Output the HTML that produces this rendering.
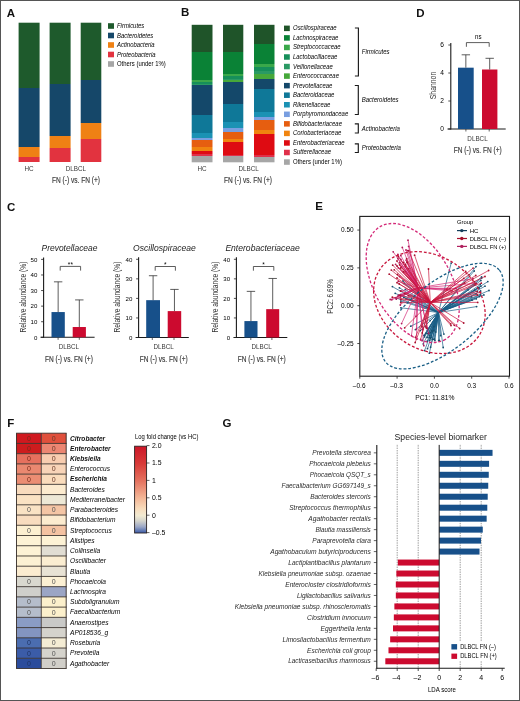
<!DOCTYPE html>
<html><head><meta charset="utf-8"><style>
html,body{margin:0;padding:0;background:#fff;}
svg{display:block;font-family:"Liberation Sans", sans-serif;will-change:transform;}
</style></head><body>
<svg width="520" height="701" viewBox="0 0 520 701">
<rect x="0" y="0" width="520" height="701" fill="#fff"/>
<text x="6.8" y="16.6" font-size="11.5" font-weight="bold" fill="#111">A</text>
<text x="181.0" y="16.4" font-size="11.5" font-weight="bold" fill="#111">B</text>
<text x="7.0" y="210.6" font-size="11.5" font-weight="bold" fill="#111">C</text>
<text x="416.3" y="16.8" font-size="11.5" font-weight="bold" fill="#111">D</text>
<text x="315.3" y="210.4" font-size="11.5" font-weight="bold" fill="#111">E</text>
<text x="7.3" y="427.3" font-size="11.5" font-weight="bold" fill="#111">F</text>
<text x="222.6" y="427.4" font-size="11.5" font-weight="bold" fill="#111">G</text>
<linearGradient id="g1" gradientUnits="userSpaceOnUse" x1="0" y1="22.7" x2="0" y2="162"><stop offset="0.0000" stop-color="#1e5a2c"/><stop offset="0.4652" stop-color="#1e5a2c"/><stop offset="0.4652" stop-color="#154769"/><stop offset="0.8909" stop-color="#154769"/><stop offset="0.8909" stop-color="#ef8114"/><stop offset="0.9641" stop-color="#ef8114"/><stop offset="0.9641" stop-color="#e2333f"/><stop offset="1.0000" stop-color="#e2333f"/></linearGradient>
<rect x="18.6" y="22.7" width="21.00" height="139.30" fill="url(#g1)"/>
<linearGradient id="g2" gradientUnits="userSpaceOnUse" x1="0" y1="22.7" x2="0" y2="162"><stop offset="0.0000" stop-color="#1e5a2c"/><stop offset="0.4386" stop-color="#1e5a2c"/><stop offset="0.4386" stop-color="#154769"/><stop offset="0.8134" stop-color="#154769"/><stop offset="0.8134" stop-color="#ef8114"/><stop offset="0.8981" stop-color="#ef8114"/><stop offset="0.8981" stop-color="#e2333f"/><stop offset="1.0000" stop-color="#e2333f"/></linearGradient>
<rect x="49.6" y="22.7" width="21.00" height="139.30" fill="url(#g2)"/>
<linearGradient id="g3" gradientUnits="userSpaceOnUse" x1="0" y1="22.7" x2="0" y2="162"><stop offset="0.0000" stop-color="#1e5a2c"/><stop offset="0.4142" stop-color="#1e5a2c"/><stop offset="0.4142" stop-color="#154769"/><stop offset="0.7186" stop-color="#154769"/><stop offset="0.7186" stop-color="#ef8114"/><stop offset="0.8335" stop-color="#ef8114"/><stop offset="0.8335" stop-color="#e2333f"/><stop offset="1.0000" stop-color="#e2333f"/></linearGradient>
<rect x="80.7" y="22.7" width="20.60" height="139.30" fill="url(#g3)"/>
<rect x="108.00" y="23.20" width="6.00" height="5.60" fill="#1e5a2c"/>
<text x="117" y="28.1" font-size="6.3" font-style="italic" textLength="27.3" lengthAdjust="spacingAndGlyphs">Firmicutes</text>
<rect x="108.00" y="32.70" width="6.00" height="5.60" fill="#154769"/>
<text x="117" y="37.6" font-size="6.3" font-style="italic" textLength="36.2" lengthAdjust="spacingAndGlyphs">Bacteroidetes</text>
<rect x="108.00" y="42.20" width="6.00" height="5.60" fill="#ef8114"/>
<text x="117" y="47.1" font-size="6.3" font-style="italic" textLength="37.51" lengthAdjust="spacingAndGlyphs">Actinobacteria</text>
<rect x="108.00" y="51.70" width="6.00" height="5.60" fill="#e2333f"/>
<text x="117" y="56.6" font-size="6.3" font-style="italic" textLength="38.5" lengthAdjust="spacingAndGlyphs">Proteobacteria</text>
<rect x="108.00" y="61.20" width="6.00" height="5.60" fill="#a6a6a6"/>
<text x="117" y="66.10000000000001" font-size="6.3" textLength="48.69" lengthAdjust="spacingAndGlyphs">Others (under 1%)</text>
<text x="29" y="171.2" font-size="6.3" text-anchor="middle" fill="#3a3a3a">HC</text>
<text x="75.8" y="171.2" font-size="6.3" text-anchor="middle" fill="#3a3a3a">DLBCL</text>
<text x="52" y="183.4" font-size="8.2" fill="#3a3a3a" textLength="48" lengthAdjust="spacingAndGlyphs" stroke="#3a3a3a" stroke-width="0.15">FN (-) vs. FN (+)</text>
<linearGradient id="g4" gradientUnits="userSpaceOnUse" x1="0" y1="24.8" x2="0" y2="162.3"><stop offset="0.0000" stop-color="#1f5429"/><stop offset="0.1956" stop-color="#1f5429"/><stop offset="0.1956" stop-color="#0a8236"/><stop offset="0.4015" stop-color="#0a8236"/><stop offset="0.4015" stop-color="#3aa84a"/><stop offset="0.4182" stop-color="#3aa84a"/><stop offset="0.4182" stop-color="#168f5a"/><stop offset="0.4276" stop-color="#168f5a"/><stop offset="0.4276" stop-color="#2a9a64"/><stop offset="0.4364" stop-color="#2a9a64"/><stop offset="0.4364" stop-color="#46a83a"/><stop offset="0.4393" stop-color="#46a83a"/><stop offset="0.4393" stop-color="#14486a"/><stop offset="0.6560" stop-color="#14486a"/><stop offset="0.6560" stop-color="#0f7898"/><stop offset="0.7905" stop-color="#0f7898"/><stop offset="0.7905" stop-color="#1b92b4"/><stop offset="0.8211" stop-color="#1b92b4"/><stop offset="0.8211" stop-color="#789ee0"/><stop offset="0.8378" stop-color="#789ee0"/><stop offset="0.8378" stop-color="#e65e10"/><stop offset="0.8909" stop-color="#e65e10"/><stop offset="0.8909" stop-color="#f0840f"/><stop offset="0.9164" stop-color="#f0840f"/><stop offset="0.9164" stop-color="#de0b12"/><stop offset="0.9396" stop-color="#de0b12"/><stop offset="0.9396" stop-color="#e0304a"/><stop offset="0.9542" stop-color="#e0304a"/><stop offset="0.9542" stop-color="#a6a6a6"/><stop offset="1.0000" stop-color="#a6a6a6"/></linearGradient>
<rect x="191.7" y="24.8" width="20.80" height="137.50" fill="url(#g4)"/>
<linearGradient id="g5" gradientUnits="userSpaceOnUse" x1="0" y1="24.8" x2="0" y2="162.3"><stop offset="0.0000" stop-color="#1f5429"/><stop offset="0.1956" stop-color="#1f5429"/><stop offset="0.1956" stop-color="#0a8236"/><stop offset="0.3564" stop-color="#0a8236"/><stop offset="0.3564" stop-color="#3aa84a"/><stop offset="0.3760" stop-color="#3aa84a"/><stop offset="0.3760" stop-color="#168f5a"/><stop offset="0.3920" stop-color="#168f5a"/><stop offset="0.3920" stop-color="#2a9a64"/><stop offset="0.4029" stop-color="#2a9a64"/><stop offset="0.4029" stop-color="#46a83a"/><stop offset="0.4175" stop-color="#46a83a"/><stop offset="0.4175" stop-color="#14486a"/><stop offset="0.5745" stop-color="#14486a"/><stop offset="0.5745" stop-color="#0f7898"/><stop offset="0.7084" stop-color="#0f7898"/><stop offset="0.7084" stop-color="#1b92b4"/><stop offset="0.7520" stop-color="#1b92b4"/><stop offset="0.7520" stop-color="#789ee0"/><stop offset="0.7775" stop-color="#789ee0"/><stop offset="0.7775" stop-color="#e65e10"/><stop offset="0.8320" stop-color="#e65e10"/><stop offset="0.8320" stop-color="#f0840f"/><stop offset="0.8538" stop-color="#f0840f"/><stop offset="0.8538" stop-color="#de0b12"/><stop offset="0.9433" stop-color="#de0b12"/><stop offset="0.9433" stop-color="#e0304a"/><stop offset="0.9556" stop-color="#e0304a"/><stop offset="0.9556" stop-color="#a6a6a6"/><stop offset="1.0000" stop-color="#a6a6a6"/></linearGradient>
<rect x="223" y="24.8" width="20.30" height="137.50" fill="url(#g5)"/>
<linearGradient id="g6" gradientUnits="userSpaceOnUse" x1="0" y1="24.8" x2="0" y2="162.3"><stop offset="0.0000" stop-color="#1f5429"/><stop offset="0.1389" stop-color="#1f5429"/><stop offset="0.1389" stop-color="#0a8236"/><stop offset="0.2858" stop-color="#0a8236"/><stop offset="0.2858" stop-color="#3aa84a"/><stop offset="0.3069" stop-color="#3aa84a"/><stop offset="0.3069" stop-color="#168f5a"/><stop offset="0.3396" stop-color="#168f5a"/><stop offset="0.3396" stop-color="#2a9a64"/><stop offset="0.3578" stop-color="#2a9a64"/><stop offset="0.3578" stop-color="#46a83a"/><stop offset="0.3956" stop-color="#46a83a"/><stop offset="0.3956" stop-color="#14486a"/><stop offset="0.4651" stop-color="#14486a"/><stop offset="0.4651" stop-color="#0f7898"/><stop offset="0.6349" stop-color="#0f7898"/><stop offset="0.6349" stop-color="#1b92b4"/><stop offset="0.6727" stop-color="#1b92b4"/><stop offset="0.6727" stop-color="#789ee0"/><stop offset="0.6895" stop-color="#789ee0"/><stop offset="0.6895" stop-color="#e65e10"/><stop offset="0.7680" stop-color="#e65e10"/><stop offset="0.7680" stop-color="#f0840f"/><stop offset="0.7927" stop-color="#f0840f"/><stop offset="0.7927" stop-color="#de0b12"/><stop offset="0.9440" stop-color="#de0b12"/><stop offset="0.9440" stop-color="#e0304a"/><stop offset="0.9615" stop-color="#e0304a"/><stop offset="0.9615" stop-color="#a6a6a6"/><stop offset="1.0000" stop-color="#a6a6a6"/></linearGradient>
<rect x="254" y="24.8" width="20.50" height="137.50" fill="url(#g6)"/>
<rect x="284.00" y="25.60" width="5.80" height="5.50" fill="#1f5429"/>
<text x="293" y="30.3" font-size="6.4" font-style="italic" textLength="43.65" lengthAdjust="spacingAndGlyphs">Oscillospiraceae</text>
<rect x="284.00" y="35.15" width="5.80" height="5.50" fill="#0a8236"/>
<text x="293" y="39.85000000000001" font-size="6.4" font-style="italic" textLength="45.32" lengthAdjust="spacingAndGlyphs">Lachnospiraceae</text>
<rect x="284.00" y="44.70" width="5.80" height="5.50" fill="#3aa84a"/>
<text x="293" y="49.400000000000006" font-size="6.4" font-style="italic" textLength="47.63" lengthAdjust="spacingAndGlyphs">Streptococcaceae</text>
<rect x="284.00" y="54.25" width="5.80" height="5.50" fill="#168f5a"/>
<text x="293" y="58.95" font-size="6.4" font-style="italic" textLength="44.32" lengthAdjust="spacingAndGlyphs">Lactobacillaceae</text>
<rect x="284.00" y="63.80" width="5.80" height="5.50" fill="#2a9a64"/>
<text x="293" y="68.5" font-size="6.4" font-style="italic" textLength="39.8" lengthAdjust="spacingAndGlyphs">Veillonellaceae</text>
<rect x="284.00" y="73.35" width="5.80" height="5.50" fill="#46a83a"/>
<text x="293" y="78.05" font-size="6.4" font-style="italic" textLength="45.97" lengthAdjust="spacingAndGlyphs">Enterococcaceae</text>
<rect x="284.00" y="82.90" width="5.80" height="5.50" fill="#14486a"/>
<text x="293" y="87.60000000000001" font-size="6.4" font-style="italic" textLength="39.36" lengthAdjust="spacingAndGlyphs">Prevotellaceae</text>
<rect x="284.00" y="92.45" width="5.80" height="5.50" fill="#0f7898"/>
<text x="293" y="97.15000000000002" font-size="6.4" font-style="italic" textLength="41.35" lengthAdjust="spacingAndGlyphs">Bacteroidaceae</text>
<rect x="284.00" y="102.00" width="5.80" height="5.50" fill="#1b92b4"/>
<text x="293" y="106.7" font-size="6.4" font-style="italic" textLength="37.37" lengthAdjust="spacingAndGlyphs">Rikenellaceae</text>
<rect x="284.00" y="111.55" width="5.80" height="5.50" fill="#789ee0"/>
<text x="293" y="116.25000000000001" font-size="6.4" font-style="italic" textLength="55.23" lengthAdjust="spacingAndGlyphs">Porphyromondaceae</text>
<rect x="284.00" y="121.10" width="5.80" height="5.50" fill="#e65e10"/>
<text x="293" y="125.8" font-size="6.4" font-style="italic" textLength="48.95" lengthAdjust="spacingAndGlyphs">Bifidobacteriaceae</text>
<rect x="284.00" y="130.65" width="5.80" height="5.50" fill="#f0840f"/>
<text x="293" y="135.35" font-size="6.4" font-style="italic" textLength="48.29" lengthAdjust="spacingAndGlyphs">Coriobacteriaceae</text>
<rect x="284.00" y="140.20" width="5.80" height="5.50" fill="#de0b12"/>
<text x="293" y="144.9" font-size="6.4" font-style="italic" textLength="51.6" lengthAdjust="spacingAndGlyphs">Enterobacteriaceae</text>
<rect x="284.00" y="149.75" width="5.80" height="5.50" fill="#e0304a"/>
<text x="293" y="154.45" font-size="6.4" font-style="italic" textLength="38.04" lengthAdjust="spacingAndGlyphs">Sutterellaceae</text>
<rect x="284.00" y="159.30" width="5.80" height="5.50" fill="#a6a6a6"/>
<text x="293" y="164.0" font-size="6.4" textLength="48.94" lengthAdjust="spacingAndGlyphs">Others (under 1%)</text>
<path d="M354.9,28 H358.4 V76 H354.9" fill="none" stroke="#1a1a1a" stroke-width="1.15"/>
<text x="361.79999999999995" y="54" font-size="6.4" font-style="italic" textLength="27.8" lengthAdjust="spacingAndGlyphs">Firmicutes</text>
<path d="M354.8,85.5 H358.3 V114.5 H354.8" fill="none" stroke="#1a1a1a" stroke-width="1.15"/>
<text x="361.7" y="102.2" font-size="6.4" font-style="italic" textLength="36.87" lengthAdjust="spacingAndGlyphs">Bacteroidetes</text>
<path d="M354.8,123.8 H358.3 V133 H354.8" fill="none" stroke="#1a1a1a" stroke-width="1.15"/>
<text x="361.7" y="131" font-size="6.4" font-style="italic" textLength="38.21" lengthAdjust="spacingAndGlyphs">Actinobacteria</text>
<path d="M354.8,143.8 H358.3 V152.5 H354.8" fill="none" stroke="#1a1a1a" stroke-width="1.15"/>
<text x="361.7" y="149.8" font-size="6.4" font-style="italic" textLength="39.22" lengthAdjust="spacingAndGlyphs">Proteobacteria</text>
<text x="202" y="171.2" font-size="6.3" text-anchor="middle" fill="#3a3a3a">HC</text>
<text x="248.7" y="171.2" font-size="6.3" text-anchor="middle" fill="#3a3a3a">DLBCL</text>
<text x="224" y="183.4" font-size="8.2" fill="#3a3a3a" textLength="48" lengthAdjust="spacingAndGlyphs" stroke="#3a3a3a" stroke-width="0.15">FN (-) vs. FN (+)</text>
<line x1="450.80" y1="43.00" x2="450.80" y2="129.50" stroke="#1a1a1a" stroke-width="1.1"/>
<line x1="447.50" y1="129.00" x2="505.70" y2="129.00" stroke="#1a1a1a" stroke-width="1.1"/>
<line x1="448.30" y1="129.00" x2="450.80" y2="129.00" stroke="#222" stroke-width="0.8"/>
<text x="443.90000000000003" y="131.2" font-size="6.6" text-anchor="end">0</text>
<line x1="448.30" y1="101.00" x2="450.80" y2="101.00" stroke="#222" stroke-width="0.8"/>
<text x="443.90000000000003" y="103.2" font-size="6.6" text-anchor="end">2</text>
<line x1="448.30" y1="73.00" x2="450.80" y2="73.00" stroke="#222" stroke-width="0.8"/>
<text x="443.90000000000003" y="75.2" font-size="6.6" text-anchor="end">4</text>
<line x1="448.30" y1="45.00" x2="450.80" y2="45.00" stroke="#222" stroke-width="0.8"/>
<text x="443.90000000000003" y="47.2" font-size="6.6" text-anchor="end">6</text>
<line x1="465.90" y1="129.00" x2="465.90" y2="131.50" stroke="#222" stroke-width="0.7"/>
<line x1="489.20" y1="129.00" x2="489.20" y2="131.50" stroke="#222" stroke-width="0.7"/>
<rect x="458.00" y="67.68" width="15.70" height="61.32" fill="#17508a"/>
<line x1="465.85" y1="67.68" x2="465.85" y2="54.80" stroke="#333" stroke-width="0.8"/>
<line x1="461.65" y1="54.80" x2="470.05" y2="54.80" stroke="#333" stroke-width="0.8"/>
<rect x="482.00" y="69.50" width="15.40" height="59.50" fill="#cc0a2f"/>
<line x1="489.70" y1="69.50" x2="489.70" y2="58.30" stroke="#333" stroke-width="0.8"/>
<line x1="485.50" y1="58.30" x2="493.90" y2="58.30" stroke="#333" stroke-width="0.8"/>
<path d="M466.4,46.8 V42.6 H489.2 V46.8" fill="none" stroke="#333" stroke-width="0.8"/>
<text x="478.29999999999995" y="39.2" font-size="6.8" text-anchor="middle" textLength="6.5" lengthAdjust="spacingAndGlyphs">ns</text>
<text x="477.5" y="140.8" font-size="6.3" text-anchor="middle" fill="#3a3a3a">DLBCL</text>
<text x="453.7" y="152.6" font-size="8.2" fill="#3a3a3a" textLength="48" lengthAdjust="spacingAndGlyphs" stroke="#3a3a3a" stroke-width="0.15">FN (-) vs. FN (+)</text>
<text x="0" y="0" font-size="8.6" fill="#333" text-anchor="middle" transform="translate(436.0,85.5) rotate(-90)" textLength="27.5" lengthAdjust="spacingAndGlyphs">Shannon</text>
<text x="41.5" y="250.7" font-size="8.3" font-style="italic" fill="#222" textLength="56" lengthAdjust="spacingAndGlyphs">Prevotellaceae</text>
<text x="133.1" y="250.9" font-size="8.3" font-style="italic" fill="#222" textLength="62.7" lengthAdjust="spacingAndGlyphs">Oscillospiraceae</text>
<text x="225.4" y="250.7" font-size="8.3" font-style="italic" fill="#222" textLength="74.3" lengthAdjust="spacingAndGlyphs">Enterobacteriaceae</text>
<line x1="43.60" y1="257.40" x2="43.60" y2="337.80" stroke="#1a1a1a" stroke-width="1.1"/>
<line x1="40.50" y1="337.30" x2="94.60" y2="337.30" stroke="#1a1a1a" stroke-width="1.1"/>
<line x1="41.10" y1="337.30" x2="43.60" y2="337.30" stroke="#222" stroke-width="0.8"/>
<text x="37.300000000000004" y="339.5" font-size="6.1" text-anchor="end">0</text>
<line x1="41.10" y1="321.72" x2="43.60" y2="321.72" stroke="#222" stroke-width="0.8"/>
<text x="37.300000000000004" y="323.92" font-size="6.1" text-anchor="end">10</text>
<line x1="41.10" y1="306.14" x2="43.60" y2="306.14" stroke="#222" stroke-width="0.8"/>
<text x="37.300000000000004" y="308.34" font-size="6.1" text-anchor="end">20</text>
<line x1="41.10" y1="290.56" x2="43.60" y2="290.56" stroke="#222" stroke-width="0.8"/>
<text x="37.300000000000004" y="292.76" font-size="6.1" text-anchor="end">30</text>
<line x1="41.10" y1="274.98" x2="43.60" y2="274.98" stroke="#222" stroke-width="0.8"/>
<text x="37.300000000000004" y="277.18" font-size="6.1" text-anchor="end">40</text>
<line x1="41.10" y1="259.40" x2="43.60" y2="259.40" stroke="#222" stroke-width="0.8"/>
<text x="37.300000000000004" y="261.59999999999997" font-size="6.1" text-anchor="end">50</text>
<line x1="58.10" y1="337.30" x2="58.10" y2="339.80" stroke="#222" stroke-width="0.7"/>
<line x1="79.30" y1="337.30" x2="79.30" y2="339.80" stroke="#222" stroke-width="0.7"/>
<rect x="51.50" y="312.06" width="13.30" height="25.24" fill="#17508a"/>
<line x1="58.15" y1="312.06" x2="58.15" y2="281.84" stroke="#333" stroke-width="0.8"/>
<line x1="53.95" y1="281.84" x2="62.35" y2="281.84" stroke="#333" stroke-width="0.8"/>
<rect x="72.70" y="327.02" width="13.20" height="10.28" fill="#cc0a2f"/>
<line x1="79.30" y1="327.02" x2="79.30" y2="299.91" stroke="#333" stroke-width="0.8"/>
<line x1="75.10" y1="299.91" x2="83.50" y2="299.91" stroke="#333" stroke-width="0.8"/>
<path d="M60.2,270.6 V266.4 H80.6 V270.6" fill="none" stroke="#333" stroke-width="0.8"/>
<text x="70.4" y="267.29999999999995" font-size="6.5" text-anchor="middle">**</text>
<text x="68.9" y="349" font-size="6.3" text-anchor="middle" fill="#3a3a3a">DLBCL</text>
<text x="44.900000000000006" y="361.8" font-size="8.2" fill="#3a3a3a" textLength="48" lengthAdjust="spacingAndGlyphs" stroke="#3a3a3a" stroke-width="0.15">FN (-) vs. FN (+)</text>
<line x1="138.60" y1="257.30" x2="138.60" y2="338.00" stroke="#1a1a1a" stroke-width="1.1"/>
<line x1="135.60" y1="337.50" x2="188.80" y2="337.50" stroke="#1a1a1a" stroke-width="1.1"/>
<line x1="136.10" y1="337.50" x2="138.60" y2="337.50" stroke="#222" stroke-width="0.8"/>
<text x="132.29999999999998" y="339.7" font-size="6.1" text-anchor="end">0</text>
<line x1="136.10" y1="317.95" x2="138.60" y2="317.95" stroke="#222" stroke-width="0.8"/>
<text x="132.29999999999998" y="320.15" font-size="6.1" text-anchor="end">10</text>
<line x1="136.10" y1="298.40" x2="138.60" y2="298.40" stroke="#222" stroke-width="0.8"/>
<text x="132.29999999999998" y="300.59999999999997" font-size="6.1" text-anchor="end">20</text>
<line x1="136.10" y1="278.85" x2="138.60" y2="278.85" stroke="#222" stroke-width="0.8"/>
<text x="132.29999999999998" y="281.05" font-size="6.1" text-anchor="end">30</text>
<line x1="136.10" y1="259.30" x2="138.60" y2="259.30" stroke="#222" stroke-width="0.8"/>
<text x="132.29999999999998" y="261.5" font-size="6.1" text-anchor="end">40</text>
<line x1="152.30" y1="337.50" x2="152.30" y2="340.00" stroke="#222" stroke-width="0.7"/>
<line x1="174.00" y1="337.50" x2="174.00" y2="340.00" stroke="#222" stroke-width="0.7"/>
<rect x="146.20" y="300.16" width="13.80" height="37.34" fill="#17508a"/>
<line x1="153.10" y1="300.16" x2="153.10" y2="275.72" stroke="#333" stroke-width="0.8"/>
<line x1="148.90" y1="275.72" x2="157.30" y2="275.72" stroke="#333" stroke-width="0.8"/>
<rect x="167.70" y="311.11" width="13.50" height="26.39" fill="#cc0a2f"/>
<line x1="174.45" y1="311.11" x2="174.45" y2="289.41" stroke="#333" stroke-width="0.8"/>
<line x1="170.25" y1="289.41" x2="178.65" y2="289.41" stroke="#333" stroke-width="0.8"/>
<path d="M155.2,270.7 V266.5 H175.4 V270.7" fill="none" stroke="#333" stroke-width="0.8"/>
<text x="165.3" y="267.4" font-size="6.5" text-anchor="middle">*</text>
<text x="163.7" y="349" font-size="6.3" text-anchor="middle" fill="#3a3a3a">DLBCL</text>
<text x="139.7" y="361.8" font-size="8.2" fill="#3a3a3a" textLength="48" lengthAdjust="spacingAndGlyphs" stroke="#3a3a3a" stroke-width="0.15">FN (-) vs. FN (+)</text>
<line x1="236.40" y1="257.30" x2="236.40" y2="338.00" stroke="#1a1a1a" stroke-width="1.1"/>
<line x1="233.50" y1="337.50" x2="287.30" y2="337.50" stroke="#1a1a1a" stroke-width="1.1"/>
<line x1="233.90" y1="337.50" x2="236.40" y2="337.50" stroke="#222" stroke-width="0.8"/>
<text x="230.1" y="339.7" font-size="6.1" text-anchor="end">0</text>
<line x1="233.90" y1="317.95" x2="236.40" y2="317.95" stroke="#222" stroke-width="0.8"/>
<text x="230.1" y="320.15" font-size="6.1" text-anchor="end">10</text>
<line x1="233.90" y1="298.40" x2="236.40" y2="298.40" stroke="#222" stroke-width="0.8"/>
<text x="230.1" y="300.59999999999997" font-size="6.1" text-anchor="end">20</text>
<line x1="233.90" y1="278.85" x2="236.40" y2="278.85" stroke="#222" stroke-width="0.8"/>
<text x="230.1" y="281.05" font-size="6.1" text-anchor="end">30</text>
<line x1="233.90" y1="259.30" x2="236.40" y2="259.30" stroke="#222" stroke-width="0.8"/>
<text x="230.1" y="261.5" font-size="6.1" text-anchor="end">40</text>
<line x1="250.80" y1="337.50" x2="250.80" y2="340.00" stroke="#222" stroke-width="0.7"/>
<line x1="271.90" y1="337.50" x2="271.90" y2="340.00" stroke="#222" stroke-width="0.7"/>
<rect x="244.40" y="321.08" width="13.10" height="16.42" fill="#17508a"/>
<line x1="250.95" y1="321.08" x2="250.95" y2="291.36" stroke="#333" stroke-width="0.8"/>
<line x1="246.75" y1="291.36" x2="255.15" y2="291.36" stroke="#333" stroke-width="0.8"/>
<rect x="266.20" y="309.15" width="13.00" height="28.35" fill="#cc0a2f"/>
<line x1="272.70" y1="309.15" x2="272.70" y2="278.46" stroke="#333" stroke-width="0.8"/>
<line x1="268.50" y1="278.46" x2="276.90" y2="278.46" stroke="#333" stroke-width="0.8"/>
<path d="M253.4,270.7 V266.5 H273.8 V270.7" fill="none" stroke="#333" stroke-width="0.8"/>
<text x="263.6" y="267.4" font-size="6.5" text-anchor="middle">*</text>
<text x="261.7" y="349" font-size="6.3" text-anchor="middle" fill="#3a3a3a">DLBCL</text>
<text x="237.7" y="361.8" font-size="8.2" fill="#3a3a3a" textLength="48" lengthAdjust="spacingAndGlyphs" stroke="#3a3a3a" stroke-width="0.15">FN (-) vs. FN (+)</text>
<text x="0" y="0" font-size="8.6" fill="#333" text-anchor="middle" transform="translate(25.6,297.1) rotate(-90)" textLength="71" lengthAdjust="spacingAndGlyphs">Relative abundance (%)</text>
<text x="0" y="0" font-size="8.6" fill="#333" text-anchor="middle" transform="translate(120.2,297.1) rotate(-90)" textLength="71" lengthAdjust="spacingAndGlyphs">Relative abundance (%)</text>
<text x="0" y="0" font-size="8.6" fill="#333" text-anchor="middle" transform="translate(218.2,297.1) rotate(-90)" textLength="71" lengthAdjust="spacingAndGlyphs">Relative abundance (%)</text>
<g clip-path="url(#clipE)">
<line x1="438.50" y1="312.50" x2="420.43" y2="330.58" stroke="#1a5f86" stroke-width="0.7"/>
<line x1="438.50" y1="312.50" x2="424.36" y2="335.57" stroke="#1a5f86" stroke-width="0.7"/>
<line x1="438.50" y1="312.50" x2="423.97" y2="335.31" stroke="#1a5f86" stroke-width="0.7"/>
<line x1="438.50" y1="312.50" x2="434.53" y2="339.08" stroke="#1a5f86" stroke-width="0.7"/>
<line x1="438.50" y1="312.50" x2="433.81" y2="326.70" stroke="#1a5f86" stroke-width="0.7"/>
<line x1="438.50" y1="312.50" x2="443.85" y2="334.12" stroke="#1a5f86" stroke-width="0.7"/>
<line x1="438.50" y1="312.50" x2="428.81" y2="333.47" stroke="#1a5f86" stroke-width="0.7"/>
<line x1="438.50" y1="312.50" x2="429.28" y2="335.60" stroke="#1a5f86" stroke-width="0.7"/>
<line x1="438.50" y1="312.50" x2="431.06" y2="337.60" stroke="#1a5f86" stroke-width="0.7"/>
<line x1="438.50" y1="312.50" x2="422.05" y2="340.56" stroke="#1a5f86" stroke-width="0.7"/>
<line x1="438.50" y1="312.50" x2="427.26" y2="330.10" stroke="#1a5f86" stroke-width="0.7"/>
<line x1="438.50" y1="312.50" x2="427.11" y2="337.39" stroke="#1a5f86" stroke-width="0.7"/>
<line x1="438.50" y1="312.50" x2="440.57" y2="335.66" stroke="#1a5f86" stroke-width="0.7"/>
<line x1="438.50" y1="312.50" x2="429.56" y2="340.31" stroke="#1a5f86" stroke-width="0.7"/>
<line x1="438.50" y1="312.50" x2="438.71" y2="340.73" stroke="#1a5f86" stroke-width="0.7"/>
<line x1="438.50" y1="312.50" x2="433.82" y2="330.72" stroke="#1a5f86" stroke-width="0.7"/>
<line x1="438.50" y1="312.50" x2="431.09" y2="335.82" stroke="#1a5f86" stroke-width="0.7"/>
<line x1="438.50" y1="312.50" x2="435.76" y2="332.09" stroke="#1a5f86" stroke-width="0.7"/>
<line x1="438.50" y1="312.50" x2="429.44" y2="337.52" stroke="#1a5f86" stroke-width="0.7"/>
<line x1="438.50" y1="312.50" x2="431.71" y2="330.93" stroke="#1a5f86" stroke-width="0.7"/>
<line x1="438.50" y1="312.50" x2="424.60" y2="350.56" stroke="#1a5f86" stroke-width="0.7"/>
<line x1="438.50" y1="312.50" x2="433.77" y2="339.30" stroke="#1a5f86" stroke-width="0.7"/>
<line x1="438.50" y1="312.50" x2="439.30" y2="340.27" stroke="#1a5f86" stroke-width="0.7"/>
<line x1="438.50" y1="312.50" x2="425.93" y2="333.42" stroke="#1a5f86" stroke-width="0.7"/>
<line x1="438.50" y1="312.50" x2="430.70" y2="332.58" stroke="#1a5f86" stroke-width="0.7"/>
<line x1="438.50" y1="312.50" x2="434.89" y2="340.54" stroke="#1a5f86" stroke-width="0.7"/>
<line x1="438.50" y1="312.50" x2="429.35" y2="353.16" stroke="#1a5f86" stroke-width="0.7"/>
<line x1="438.50" y1="312.50" x2="427.53" y2="348.74" stroke="#1a5f86" stroke-width="0.7"/>
<line x1="438.50" y1="312.50" x2="423.27" y2="343.87" stroke="#1a5f86" stroke-width="0.7"/>
<line x1="438.50" y1="312.50" x2="443.17" y2="347.54" stroke="#1a5f86" stroke-width="0.7"/>
<line x1="438.50" y1="312.50" x2="430.55" y2="347.17" stroke="#1a5f86" stroke-width="0.7"/>
<line x1="438.50" y1="312.50" x2="430.44" y2="338.43" stroke="#1a5f86" stroke-width="0.7"/>
<line x1="438.50" y1="312.50" x2="427.76" y2="333.59" stroke="#1a5f86" stroke-width="0.7"/>
<line x1="438.50" y1="312.50" x2="427.20" y2="341.15" stroke="#1a5f86" stroke-width="0.7"/>
<line x1="438.50" y1="312.50" x2="424.50" y2="336.87" stroke="#1a5f86" stroke-width="0.7"/>
<line x1="438.50" y1="312.50" x2="432.19" y2="339.43" stroke="#1a5f86" stroke-width="0.7"/>
<line x1="438.50" y1="312.50" x2="432.57" y2="331.52" stroke="#1a5f86" stroke-width="0.7"/>
<line x1="438.50" y1="312.50" x2="430.21" y2="320.60" stroke="#1a5f86" stroke-width="0.7"/>
<line x1="438.50" y1="312.50" x2="487.82" y2="281.63" stroke="#1a5f86" stroke-width="0.7"/>
<line x1="438.50" y1="312.50" x2="474.73" y2="290.22" stroke="#1a5f86" stroke-width="0.7"/>
<line x1="438.50" y1="312.50" x2="480.95" y2="286.29" stroke="#1a5f86" stroke-width="0.7"/>
<line x1="438.50" y1="312.50" x2="476.55" y2="306.61" stroke="#1a5f86" stroke-width="0.7"/>
<line x1="438.50" y1="312.50" x2="476.08" y2="293.98" stroke="#1a5f86" stroke-width="0.7"/>
<line x1="438.50" y1="312.50" x2="480.60" y2="291.02" stroke="#1a5f86" stroke-width="0.7"/>
<line x1="438.50" y1="312.50" x2="481.55" y2="276.96" stroke="#1a5f86" stroke-width="0.7"/>
<line x1="438.50" y1="312.50" x2="480.23" y2="284.65" stroke="#1a5f86" stroke-width="0.7"/>
<line x1="438.50" y1="312.50" x2="476.28" y2="298.78" stroke="#1a5f86" stroke-width="0.7"/>
<line x1="438.50" y1="312.50" x2="479.36" y2="296.58" stroke="#1a5f86" stroke-width="0.7"/>
<line x1="438.50" y1="312.50" x2="480.53" y2="294.98" stroke="#1a5f86" stroke-width="0.7"/>
<line x1="438.50" y1="312.50" x2="484.98" y2="286.21" stroke="#1a5f86" stroke-width="0.7"/>
<line x1="438.50" y1="312.50" x2="474.39" y2="285.22" stroke="#1a5f86" stroke-width="0.7"/>
<line x1="438.50" y1="312.50" x2="489.00" y2="290.46" stroke="#1a5f86" stroke-width="0.7"/>
<line x1="438.50" y1="312.50" x2="478.11" y2="287.52" stroke="#1a5f86" stroke-width="0.7"/>
<line x1="438.50" y1="312.50" x2="468.15" y2="289.80" stroke="#1a5f86" stroke-width="0.7"/>
<line x1="438.50" y1="312.50" x2="479.18" y2="287.98" stroke="#1a5f86" stroke-width="0.7"/>
<line x1="438.50" y1="312.50" x2="476.04" y2="266.60" stroke="#1a5f86" stroke-width="0.7"/>
<line x1="438.50" y1="312.50" x2="474.20" y2="270.99" stroke="#1a5f86" stroke-width="0.7"/>
<line x1="438.50" y1="312.50" x2="472.01" y2="300.20" stroke="#1a5f86" stroke-width="0.7"/>
<line x1="438.50" y1="312.50" x2="480.94" y2="280.47" stroke="#1a5f86" stroke-width="0.7"/>
<line x1="438.50" y1="312.50" x2="481.69" y2="278.13" stroke="#1a5f86" stroke-width="0.7"/>
<line x1="438.50" y1="312.50" x2="471.63" y2="296.91" stroke="#1a5f86" stroke-width="0.7"/>
<line x1="438.50" y1="312.50" x2="483.88" y2="294.90" stroke="#1a5f86" stroke-width="0.7"/>
<line x1="438.50" y1="312.50" x2="405.29" y2="289.25" stroke="#1a5f86" stroke-width="0.7"/>
<line x1="438.50" y1="312.50" x2="399.44" y2="287.81" stroke="#1a5f86" stroke-width="0.7"/>
<line x1="438.50" y1="312.50" x2="400.99" y2="294.51" stroke="#1a5f86" stroke-width="0.7"/>
<line x1="438.50" y1="312.50" x2="406.00" y2="298.77" stroke="#1a5f86" stroke-width="0.7"/>
<line x1="438.50" y1="312.50" x2="400.86" y2="307.75" stroke="#1a5f86" stroke-width="0.7"/>
<line x1="438.50" y1="312.50" x2="392.38" y2="286.62" stroke="#1a5f86" stroke-width="0.7"/>
<line x1="438.50" y1="312.50" x2="403.80" y2="297.42" stroke="#1a5f86" stroke-width="0.7"/>
<line x1="438.50" y1="312.50" x2="400.81" y2="301.08" stroke="#1a5f86" stroke-width="0.7"/>
<line x1="438.50" y1="312.50" x2="451.20" y2="263.10" stroke="#1a5f86" stroke-width="0.7"/>
<line x1="438.50" y1="312.50" x2="403.00" y2="281.00" stroke="#1a5f86" stroke-width="0.7"/>
<line x1="438.50" y1="312.50" x2="404.20" y2="283.50" stroke="#1a5f86" stroke-width="0.7"/>
<line x1="438.50" y1="312.50" x2="395.20" y2="293.30" stroke="#1a5f86" stroke-width="0.7"/>
<line x1="438.50" y1="312.50" x2="395.80" y2="297.90" stroke="#1a5f86" stroke-width="0.7"/>
<line x1="438.50" y1="312.50" x2="410.80" y2="326.20" stroke="#1a5f86" stroke-width="0.7"/>
<line x1="438.50" y1="312.50" x2="415.40" y2="329.60" stroke="#1a5f86" stroke-width="0.7"/>
<circle cx="420.4" cy="330.6" r="0.9" fill="#17506e"/>
<circle cx="424.4" cy="335.6" r="0.9" fill="#17506e"/>
<circle cx="424.0" cy="335.3" r="0.9" fill="#17506e"/>
<circle cx="434.5" cy="339.1" r="0.9" fill="#17506e"/>
<circle cx="433.8" cy="326.7" r="0.9" fill="#17506e"/>
<circle cx="443.9" cy="334.1" r="0.9" fill="#17506e"/>
<circle cx="428.8" cy="333.5" r="0.9" fill="#17506e"/>
<circle cx="429.3" cy="335.6" r="0.9" fill="#17506e"/>
<circle cx="431.1" cy="337.6" r="0.9" fill="#17506e"/>
<circle cx="422.1" cy="340.6" r="0.9" fill="#17506e"/>
<circle cx="427.3" cy="330.1" r="0.9" fill="#17506e"/>
<circle cx="427.1" cy="337.4" r="0.9" fill="#17506e"/>
<circle cx="440.6" cy="335.7" r="0.9" fill="#17506e"/>
<circle cx="429.6" cy="340.3" r="0.9" fill="#17506e"/>
<circle cx="438.7" cy="340.7" r="0.9" fill="#17506e"/>
<circle cx="433.8" cy="330.7" r="0.9" fill="#17506e"/>
<circle cx="431.1" cy="335.8" r="0.9" fill="#17506e"/>
<circle cx="435.8" cy="332.1" r="0.9" fill="#17506e"/>
<circle cx="429.4" cy="337.5" r="0.9" fill="#17506e"/>
<circle cx="431.7" cy="330.9" r="0.9" fill="#17506e"/>
<circle cx="424.6" cy="350.6" r="0.9" fill="#17506e"/>
<circle cx="433.8" cy="339.3" r="0.9" fill="#17506e"/>
<circle cx="439.3" cy="340.3" r="0.9" fill="#17506e"/>
<circle cx="425.9" cy="333.4" r="0.9" fill="#17506e"/>
<circle cx="430.7" cy="332.6" r="0.9" fill="#17506e"/>
<circle cx="434.9" cy="340.5" r="0.9" fill="#17506e"/>
<circle cx="429.4" cy="353.2" r="0.9" fill="#17506e"/>
<circle cx="427.5" cy="348.7" r="0.9" fill="#17506e"/>
<circle cx="423.3" cy="343.9" r="0.9" fill="#17506e"/>
<circle cx="443.2" cy="347.5" r="0.9" fill="#17506e"/>
<circle cx="430.6" cy="347.2" r="0.9" fill="#17506e"/>
<circle cx="430.4" cy="338.4" r="0.9" fill="#17506e"/>
<circle cx="427.8" cy="333.6" r="0.9" fill="#17506e"/>
<circle cx="427.2" cy="341.2" r="0.9" fill="#17506e"/>
<circle cx="424.5" cy="336.9" r="0.9" fill="#17506e"/>
<circle cx="432.2" cy="339.4" r="0.9" fill="#17506e"/>
<circle cx="432.6" cy="331.5" r="0.9" fill="#17506e"/>
<circle cx="430.2" cy="320.6" r="0.9" fill="#17506e"/>
<circle cx="487.8" cy="281.6" r="0.9" fill="#17506e"/>
<circle cx="474.7" cy="290.2" r="0.9" fill="#17506e"/>
<circle cx="480.9" cy="286.3" r="0.9" fill="#17506e"/>
<circle cx="476.6" cy="306.6" r="0.9" fill="#17506e"/>
<circle cx="476.1" cy="294.0" r="0.9" fill="#17506e"/>
<circle cx="480.6" cy="291.0" r="0.9" fill="#17506e"/>
<circle cx="481.6" cy="277.0" r="0.9" fill="#17506e"/>
<circle cx="480.2" cy="284.6" r="0.9" fill="#17506e"/>
<circle cx="476.3" cy="298.8" r="0.9" fill="#17506e"/>
<circle cx="479.4" cy="296.6" r="0.9" fill="#17506e"/>
<circle cx="480.5" cy="295.0" r="0.9" fill="#17506e"/>
<circle cx="485.0" cy="286.2" r="0.9" fill="#17506e"/>
<circle cx="474.4" cy="285.2" r="0.9" fill="#17506e"/>
<circle cx="489.0" cy="290.5" r="0.9" fill="#17506e"/>
<circle cx="478.1" cy="287.5" r="0.9" fill="#17506e"/>
<circle cx="468.1" cy="289.8" r="0.9" fill="#17506e"/>
<circle cx="479.2" cy="288.0" r="0.9" fill="#17506e"/>
<circle cx="476.0" cy="266.6" r="0.9" fill="#17506e"/>
<circle cx="474.2" cy="271.0" r="0.9" fill="#17506e"/>
<circle cx="472.0" cy="300.2" r="0.9" fill="#17506e"/>
<circle cx="480.9" cy="280.5" r="0.9" fill="#17506e"/>
<circle cx="481.7" cy="278.1" r="0.9" fill="#17506e"/>
<circle cx="471.6" cy="296.9" r="0.9" fill="#17506e"/>
<circle cx="483.9" cy="294.9" r="0.9" fill="#17506e"/>
<circle cx="405.3" cy="289.3" r="0.9" fill="#17506e"/>
<circle cx="399.4" cy="287.8" r="0.9" fill="#17506e"/>
<circle cx="401.0" cy="294.5" r="0.9" fill="#17506e"/>
<circle cx="406.0" cy="298.8" r="0.9" fill="#17506e"/>
<circle cx="400.9" cy="307.8" r="0.9" fill="#17506e"/>
<circle cx="392.4" cy="286.6" r="0.9" fill="#17506e"/>
<circle cx="403.8" cy="297.4" r="0.9" fill="#17506e"/>
<circle cx="400.8" cy="301.1" r="0.9" fill="#17506e"/>
<circle cx="451.2" cy="263.1" r="0.9" fill="#17506e"/>
<circle cx="403.0" cy="281.0" r="0.9" fill="#17506e"/>
<circle cx="404.2" cy="283.5" r="0.9" fill="#17506e"/>
<circle cx="395.2" cy="293.3" r="0.9" fill="#17506e"/>
<circle cx="395.8" cy="297.9" r="0.9" fill="#17506e"/>
<circle cx="410.8" cy="326.2" r="0.9" fill="#17506e"/>
<circle cx="415.4" cy="329.6" r="0.9" fill="#17506e"/>
<line x1="418.00" y1="288.00" x2="399.66" y2="262.70" stroke="#d42a78" stroke-width="0.7"/>
<line x1="418.00" y1="288.00" x2="408.60" y2="246.26" stroke="#d42a78" stroke-width="0.7"/>
<line x1="418.00" y1="288.00" x2="401.26" y2="266.76" stroke="#d42a78" stroke-width="0.7"/>
<line x1="418.00" y1="288.00" x2="406.05" y2="260.09" stroke="#d42a78" stroke-width="0.7"/>
<line x1="418.00" y1="288.00" x2="407.23" y2="262.75" stroke="#d42a78" stroke-width="0.7"/>
<line x1="418.00" y1="288.00" x2="400.79" y2="255.49" stroke="#d42a78" stroke-width="0.7"/>
<line x1="418.00" y1="288.00" x2="400.77" y2="259.43" stroke="#d42a78" stroke-width="0.7"/>
<line x1="418.00" y1="288.00" x2="408.57" y2="268.67" stroke="#d42a78" stroke-width="0.7"/>
<line x1="418.00" y1="288.00" x2="405.58" y2="271.31" stroke="#d42a78" stroke-width="0.7"/>
<line x1="418.00" y1="288.00" x2="398.23" y2="267.82" stroke="#d42a78" stroke-width="0.7"/>
<line x1="418.00" y1="288.00" x2="405.36" y2="266.56" stroke="#d42a78" stroke-width="0.7"/>
<line x1="418.00" y1="288.00" x2="397.85" y2="254.49" stroke="#d42a78" stroke-width="0.7"/>
<line x1="418.00" y1="288.00" x2="393.21" y2="251.82" stroke="#d42a78" stroke-width="0.7"/>
<line x1="418.00" y1="288.00" x2="402.31" y2="247.43" stroke="#d42a78" stroke-width="0.7"/>
<line x1="418.00" y1="288.00" x2="396.25" y2="299.17" stroke="#d42a78" stroke-width="0.7"/>
<line x1="418.00" y1="288.00" x2="401.56" y2="323.58" stroke="#d42a78" stroke-width="0.7"/>
<line x1="418.00" y1="288.00" x2="400.46" y2="296.96" stroke="#d42a78" stroke-width="0.7"/>
<line x1="418.00" y1="288.00" x2="397.87" y2="296.06" stroke="#d42a78" stroke-width="0.7"/>
<line x1="418.00" y1="288.00" x2="390.22" y2="299.52" stroke="#d42a78" stroke-width="0.7"/>
<line x1="418.00" y1="288.00" x2="391.77" y2="299.85" stroke="#d42a78" stroke-width="0.7"/>
<line x1="418.00" y1="288.00" x2="400.30" y2="304.99" stroke="#d42a78" stroke-width="0.7"/>
<line x1="418.00" y1="288.00" x2="400.43" y2="291.12" stroke="#d42a78" stroke-width="0.7"/>
<line x1="418.00" y1="288.00" x2="398.30" y2="281.37" stroke="#d42a78" stroke-width="0.7"/>
<line x1="418.00" y1="288.00" x2="398.72" y2="295.19" stroke="#d42a78" stroke-width="0.7"/>
<line x1="418.00" y1="288.00" x2="455.40" y2="288.40" stroke="#d42a78" stroke-width="0.7"/>
<line x1="418.00" y1="288.00" x2="452.00" y2="290.90" stroke="#d42a78" stroke-width="0.7"/>
<line x1="418.00" y1="288.00" x2="476.50" y2="283.30" stroke="#d42a78" stroke-width="0.7"/>
<line x1="418.00" y1="288.00" x2="473.00" y2="278.70" stroke="#d42a78" stroke-width="0.7"/>
<line x1="418.00" y1="288.00" x2="428.62" y2="333.36" stroke="#d42a78" stroke-width="0.7"/>
<line x1="418.00" y1="288.00" x2="416.42" y2="329.11" stroke="#d42a78" stroke-width="0.7"/>
<line x1="418.00" y1="288.00" x2="423.83" y2="345.68" stroke="#d42a78" stroke-width="0.7"/>
<line x1="418.00" y1="288.00" x2="422.81" y2="329.41" stroke="#d42a78" stroke-width="0.7"/>
<line x1="418.00" y1="288.00" x2="427.44" y2="328.33" stroke="#d42a78" stroke-width="0.7"/>
<line x1="418.00" y1="288.00" x2="416.36" y2="338.95" stroke="#d42a78" stroke-width="0.7"/>
<line x1="418.00" y1="288.00" x2="411.41" y2="335.61" stroke="#d42a78" stroke-width="0.7"/>
<line x1="418.00" y1="288.00" x2="415.91" y2="316.30" stroke="#d42a78" stroke-width="0.7"/>
<line x1="418.00" y1="288.00" x2="408.00" y2="240.20" stroke="#d42a78" stroke-width="0.7"/>
<line x1="418.00" y1="288.00" x2="406.00" y2="250.00" stroke="#d42a78" stroke-width="0.7"/>
<line x1="418.00" y1="288.00" x2="407.70" y2="250.60" stroke="#d42a78" stroke-width="0.7"/>
<line x1="418.00" y1="288.00" x2="397.90" y2="258.70" stroke="#d42a78" stroke-width="0.7"/>
<line x1="418.00" y1="288.00" x2="395.60" y2="264.40" stroke="#d42a78" stroke-width="0.7"/>
<line x1="418.00" y1="288.00" x2="399.60" y2="276.50" stroke="#d42a78" stroke-width="0.7"/>
<line x1="418.00" y1="288.00" x2="450.00" y2="289.00" stroke="#d42a78" stroke-width="0.7"/>
<line x1="418.00" y1="288.00" x2="447.00" y2="289.50" stroke="#d42a78" stroke-width="0.7"/>
<circle cx="399.7" cy="262.7" r="0.9" fill="#b01a5a"/>
<circle cx="408.6" cy="246.3" r="0.9" fill="#b01a5a"/>
<circle cx="401.3" cy="266.8" r="0.9" fill="#b01a5a"/>
<circle cx="406.1" cy="260.1" r="0.9" fill="#b01a5a"/>
<circle cx="407.2" cy="262.7" r="0.9" fill="#b01a5a"/>
<circle cx="400.8" cy="255.5" r="0.9" fill="#b01a5a"/>
<circle cx="400.8" cy="259.4" r="0.9" fill="#b01a5a"/>
<circle cx="408.6" cy="268.7" r="0.9" fill="#b01a5a"/>
<circle cx="405.6" cy="271.3" r="0.9" fill="#b01a5a"/>
<circle cx="398.2" cy="267.8" r="0.9" fill="#b01a5a"/>
<circle cx="405.4" cy="266.6" r="0.9" fill="#b01a5a"/>
<circle cx="397.9" cy="254.5" r="0.9" fill="#b01a5a"/>
<circle cx="393.2" cy="251.8" r="0.9" fill="#b01a5a"/>
<circle cx="402.3" cy="247.4" r="0.9" fill="#b01a5a"/>
<circle cx="396.3" cy="299.2" r="0.9" fill="#b01a5a"/>
<circle cx="401.6" cy="323.6" r="0.9" fill="#b01a5a"/>
<circle cx="400.5" cy="297.0" r="0.9" fill="#b01a5a"/>
<circle cx="397.9" cy="296.1" r="0.9" fill="#b01a5a"/>
<circle cx="390.2" cy="299.5" r="0.9" fill="#b01a5a"/>
<circle cx="391.8" cy="299.8" r="0.9" fill="#b01a5a"/>
<circle cx="400.3" cy="305.0" r="0.9" fill="#b01a5a"/>
<circle cx="400.4" cy="291.1" r="0.9" fill="#b01a5a"/>
<circle cx="398.3" cy="281.4" r="0.9" fill="#b01a5a"/>
<circle cx="398.7" cy="295.2" r="0.9" fill="#b01a5a"/>
<circle cx="455.4" cy="288.4" r="0.9" fill="#b01a5a"/>
<circle cx="452.0" cy="290.9" r="0.9" fill="#b01a5a"/>
<circle cx="476.5" cy="283.3" r="0.9" fill="#b01a5a"/>
<circle cx="473.0" cy="278.7" r="0.9" fill="#b01a5a"/>
<circle cx="428.6" cy="333.4" r="0.9" fill="#b01a5a"/>
<circle cx="416.4" cy="329.1" r="0.9" fill="#b01a5a"/>
<circle cx="423.8" cy="345.7" r="0.9" fill="#b01a5a"/>
<circle cx="422.8" cy="329.4" r="0.9" fill="#b01a5a"/>
<circle cx="427.4" cy="328.3" r="0.9" fill="#b01a5a"/>
<circle cx="416.4" cy="338.9" r="0.9" fill="#b01a5a"/>
<circle cx="411.4" cy="335.6" r="0.9" fill="#b01a5a"/>
<circle cx="415.9" cy="316.3" r="0.9" fill="#b01a5a"/>
<circle cx="408.0" cy="240.2" r="0.9" fill="#b01a5a"/>
<circle cx="406.0" cy="250.0" r="0.9" fill="#b01a5a"/>
<circle cx="407.7" cy="250.6" r="0.9" fill="#b01a5a"/>
<circle cx="397.9" cy="258.7" r="0.9" fill="#b01a5a"/>
<circle cx="395.6" cy="264.4" r="0.9" fill="#b01a5a"/>
<circle cx="399.6" cy="276.5" r="0.9" fill="#b01a5a"/>
<circle cx="450.0" cy="289.0" r="0.9" fill="#b01a5a"/>
<circle cx="447.0" cy="289.5" r="0.9" fill="#b01a5a"/>
<line x1="430.30" y1="302.50" x2="398.24" y2="256.70" stroke="#c8163c" stroke-width="0.7"/>
<line x1="430.30" y1="302.50" x2="397.53" y2="274.49" stroke="#c8163c" stroke-width="0.7"/>
<line x1="430.30" y1="302.50" x2="391.32" y2="270.09" stroke="#c8163c" stroke-width="0.7"/>
<line x1="430.30" y1="302.50" x2="406.67" y2="258.62" stroke="#c8163c" stroke-width="0.7"/>
<line x1="430.30" y1="302.50" x2="400.57" y2="267.96" stroke="#c8163c" stroke-width="0.7"/>
<line x1="430.30" y1="302.50" x2="408.57" y2="250.72" stroke="#c8163c" stroke-width="0.7"/>
<line x1="430.30" y1="302.50" x2="406.98" y2="262.01" stroke="#c8163c" stroke-width="0.7"/>
<line x1="430.30" y1="302.50" x2="397.03" y2="265.96" stroke="#c8163c" stroke-width="0.7"/>
<line x1="430.30" y1="302.50" x2="394.19" y2="269.77" stroke="#c8163c" stroke-width="0.7"/>
<line x1="430.30" y1="302.50" x2="397.04" y2="278.02" stroke="#c8163c" stroke-width="0.7"/>
<line x1="430.30" y1="302.50" x2="399.55" y2="264.93" stroke="#c8163c" stroke-width="0.7"/>
<line x1="430.30" y1="302.50" x2="403.32" y2="262.33" stroke="#c8163c" stroke-width="0.7"/>
<line x1="430.30" y1="302.50" x2="396.95" y2="261.05" stroke="#c8163c" stroke-width="0.7"/>
<line x1="430.30" y1="302.50" x2="405.49" y2="264.52" stroke="#c8163c" stroke-width="0.7"/>
<line x1="430.30" y1="302.50" x2="408.29" y2="295.62" stroke="#c8163c" stroke-width="0.7"/>
<line x1="430.30" y1="302.50" x2="399.98" y2="295.16" stroke="#c8163c" stroke-width="0.7"/>
<line x1="430.30" y1="302.50" x2="392.34" y2="297.19" stroke="#c8163c" stroke-width="0.7"/>
<line x1="430.30" y1="302.50" x2="403.45" y2="271.76" stroke="#c8163c" stroke-width="0.7"/>
<line x1="430.30" y1="302.50" x2="400.78" y2="302.71" stroke="#c8163c" stroke-width="0.7"/>
<line x1="430.30" y1="302.50" x2="404.64" y2="293.69" stroke="#c8163c" stroke-width="0.7"/>
<line x1="430.30" y1="302.50" x2="400.72" y2="299.48" stroke="#c8163c" stroke-width="0.7"/>
<line x1="430.30" y1="302.50" x2="397.03" y2="282.68" stroke="#c8163c" stroke-width="0.7"/>
<line x1="430.30" y1="302.50" x2="399.19" y2="284.01" stroke="#c8163c" stroke-width="0.7"/>
<line x1="430.30" y1="302.50" x2="400.78" y2="290.86" stroke="#c8163c" stroke-width="0.7"/>
<line x1="430.30" y1="302.50" x2="474.45" y2="281.80" stroke="#c8163c" stroke-width="0.7"/>
<line x1="430.30" y1="302.50" x2="465.72" y2="271.43" stroke="#c8163c" stroke-width="0.7"/>
<line x1="430.30" y1="302.50" x2="463.80" y2="278.38" stroke="#c8163c" stroke-width="0.7"/>
<line x1="430.30" y1="302.50" x2="481.29" y2="283.17" stroke="#c8163c" stroke-width="0.7"/>
<line x1="430.30" y1="302.50" x2="477.68" y2="302.36" stroke="#c8163c" stroke-width="0.7"/>
<line x1="430.30" y1="302.50" x2="468.99" y2="274.64" stroke="#c8163c" stroke-width="0.7"/>
<line x1="430.30" y1="302.50" x2="488.62" y2="270.50" stroke="#c8163c" stroke-width="0.7"/>
<line x1="430.30" y1="302.50" x2="464.67" y2="282.93" stroke="#c8163c" stroke-width="0.7"/>
<line x1="430.30" y1="302.50" x2="484.97" y2="276.45" stroke="#c8163c" stroke-width="0.7"/>
<line x1="430.30" y1="302.50" x2="480.61" y2="292.36" stroke="#c8163c" stroke-width="0.7"/>
<line x1="430.30" y1="302.50" x2="475.79" y2="275.51" stroke="#c8163c" stroke-width="0.7"/>
<line x1="430.30" y1="302.50" x2="475.79" y2="283.61" stroke="#c8163c" stroke-width="0.7"/>
<line x1="430.30" y1="302.50" x2="477.52" y2="294.99" stroke="#c8163c" stroke-width="0.7"/>
<line x1="430.30" y1="302.50" x2="477.16" y2="291.38" stroke="#c8163c" stroke-width="0.7"/>
<line x1="430.30" y1="302.50" x2="473.10" y2="268.12" stroke="#c8163c" stroke-width="0.7"/>
<line x1="430.30" y1="302.50" x2="425.68" y2="326.88" stroke="#c8163c" stroke-width="0.7"/>
<line x1="430.30" y1="302.50" x2="422.25" y2="332.91" stroke="#c8163c" stroke-width="0.7"/>
<line x1="430.30" y1="302.50" x2="415.18" y2="342.52" stroke="#c8163c" stroke-width="0.7"/>
<line x1="430.30" y1="302.50" x2="404.65" y2="327.80" stroke="#c8163c" stroke-width="0.7"/>
<line x1="430.30" y1="302.50" x2="415.41" y2="337.26" stroke="#c8163c" stroke-width="0.7"/>
<line x1="430.30" y1="302.50" x2="421.88" y2="326.80" stroke="#c8163c" stroke-width="0.7"/>
<line x1="430.30" y1="302.50" x2="426.36" y2="328.08" stroke="#c8163c" stroke-width="0.7"/>
<line x1="430.30" y1="302.50" x2="420.63" y2="339.45" stroke="#c8163c" stroke-width="0.7"/>
<line x1="430.30" y1="302.50" x2="454.25" y2="325.27" stroke="#c8163c" stroke-width="0.7"/>
<line x1="430.30" y1="302.50" x2="450.97" y2="325.49" stroke="#c8163c" stroke-width="0.7"/>
<line x1="430.30" y1="302.50" x2="450.71" y2="323.76" stroke="#c8163c" stroke-width="0.7"/>
<line x1="430.30" y1="302.50" x2="459.56" y2="328.50" stroke="#c8163c" stroke-width="0.7"/>
<line x1="430.30" y1="302.50" x2="463.74" y2="322.97" stroke="#c8163c" stroke-width="0.7"/>
<line x1="430.30" y1="302.50" x2="414.60" y2="255.20" stroke="#c8163c" stroke-width="0.7"/>
<line x1="430.30" y1="302.50" x2="428.50" y2="269.00" stroke="#c8163c" stroke-width="0.7"/>
<line x1="430.30" y1="302.50" x2="389.20" y2="274.20" stroke="#c8163c" stroke-width="0.7"/>
<line x1="430.30" y1="302.50" x2="392.70" y2="265.20" stroke="#c8163c" stroke-width="0.7"/>
<circle cx="398.2" cy="256.7" r="0.9" fill="#a8102e"/>
<circle cx="397.5" cy="274.5" r="0.9" fill="#a8102e"/>
<circle cx="391.3" cy="270.1" r="0.9" fill="#a8102e"/>
<circle cx="406.7" cy="258.6" r="0.9" fill="#a8102e"/>
<circle cx="400.6" cy="268.0" r="0.9" fill="#a8102e"/>
<circle cx="408.6" cy="250.7" r="0.9" fill="#a8102e"/>
<circle cx="407.0" cy="262.0" r="0.9" fill="#a8102e"/>
<circle cx="397.0" cy="266.0" r="0.9" fill="#a8102e"/>
<circle cx="394.2" cy="269.8" r="0.9" fill="#a8102e"/>
<circle cx="397.0" cy="278.0" r="0.9" fill="#a8102e"/>
<circle cx="399.6" cy="264.9" r="0.9" fill="#a8102e"/>
<circle cx="403.3" cy="262.3" r="0.9" fill="#a8102e"/>
<circle cx="397.0" cy="261.0" r="0.9" fill="#a8102e"/>
<circle cx="405.5" cy="264.5" r="0.9" fill="#a8102e"/>
<circle cx="408.3" cy="295.6" r="0.9" fill="#a8102e"/>
<circle cx="400.0" cy="295.2" r="0.9" fill="#a8102e"/>
<circle cx="392.3" cy="297.2" r="0.9" fill="#a8102e"/>
<circle cx="403.4" cy="271.8" r="0.9" fill="#a8102e"/>
<circle cx="400.8" cy="302.7" r="0.9" fill="#a8102e"/>
<circle cx="404.6" cy="293.7" r="0.9" fill="#a8102e"/>
<circle cx="400.7" cy="299.5" r="0.9" fill="#a8102e"/>
<circle cx="397.0" cy="282.7" r="0.9" fill="#a8102e"/>
<circle cx="399.2" cy="284.0" r="0.9" fill="#a8102e"/>
<circle cx="400.8" cy="290.9" r="0.9" fill="#a8102e"/>
<circle cx="474.5" cy="281.8" r="0.9" fill="#a8102e"/>
<circle cx="465.7" cy="271.4" r="0.9" fill="#a8102e"/>
<circle cx="463.8" cy="278.4" r="0.9" fill="#a8102e"/>
<circle cx="481.3" cy="283.2" r="0.9" fill="#a8102e"/>
<circle cx="477.7" cy="302.4" r="0.9" fill="#a8102e"/>
<circle cx="469.0" cy="274.6" r="0.9" fill="#a8102e"/>
<circle cx="488.6" cy="270.5" r="0.9" fill="#a8102e"/>
<circle cx="464.7" cy="282.9" r="0.9" fill="#a8102e"/>
<circle cx="485.0" cy="276.5" r="0.9" fill="#a8102e"/>
<circle cx="480.6" cy="292.4" r="0.9" fill="#a8102e"/>
<circle cx="475.8" cy="275.5" r="0.9" fill="#a8102e"/>
<circle cx="475.8" cy="283.6" r="0.9" fill="#a8102e"/>
<circle cx="477.5" cy="295.0" r="0.9" fill="#a8102e"/>
<circle cx="477.2" cy="291.4" r="0.9" fill="#a8102e"/>
<circle cx="473.1" cy="268.1" r="0.9" fill="#a8102e"/>
<circle cx="425.7" cy="326.9" r="0.9" fill="#a8102e"/>
<circle cx="422.2" cy="332.9" r="0.9" fill="#a8102e"/>
<circle cx="415.2" cy="342.5" r="0.9" fill="#a8102e"/>
<circle cx="404.7" cy="327.8" r="0.9" fill="#a8102e"/>
<circle cx="415.4" cy="337.3" r="0.9" fill="#a8102e"/>
<circle cx="421.9" cy="326.8" r="0.9" fill="#a8102e"/>
<circle cx="426.4" cy="328.1" r="0.9" fill="#a8102e"/>
<circle cx="420.6" cy="339.4" r="0.9" fill="#a8102e"/>
<circle cx="454.3" cy="325.3" r="0.9" fill="#a8102e"/>
<circle cx="451.0" cy="325.5" r="0.9" fill="#a8102e"/>
<circle cx="450.7" cy="323.8" r="0.9" fill="#a8102e"/>
<circle cx="459.6" cy="328.5" r="0.9" fill="#a8102e"/>
<circle cx="463.7" cy="323.0" r="0.9" fill="#a8102e"/>
<circle cx="414.6" cy="255.2" r="0.9" fill="#a8102e"/>
<circle cx="428.5" cy="269.0" r="0.9" fill="#a8102e"/>
<circle cx="389.2" cy="274.2" r="0.9" fill="#a8102e"/>
<circle cx="392.7" cy="265.2" r="0.9" fill="#a8102e"/>
<ellipse cx="412.7" cy="283" rx="65.1" ry="38.3" transform="rotate(59.9 412.7 283)" fill="none" stroke="#d42a78" stroke-width="1.3" stroke-dasharray="2.8 1.9"/>
<ellipse cx="429.4" cy="302.6" rx="59.6" ry="46.4" transform="rotate(34.2 429.4 302.6)" fill="none" stroke="#c8163c" stroke-width="1.3" stroke-dasharray="2.8 1.9"/>
<ellipse cx="442.5" cy="316.1" rx="73.1" ry="33.6" transform="rotate(-38.9 442.5 316.1)" fill="none" stroke="#1a5f86" stroke-width="1.3" stroke-dasharray="2.8 1.9"/>
</g>
<rect x="359.8" y="216.4" width="149.7" height="159.79999999999998" fill="none" stroke="#1a1a1a" stroke-width="1.1"/>
<rect x="455" y="217.5" width="53" height="33" fill="#fff"/>
<text x="457" y="224.0" font-size="6" textLength="16.3" lengthAdjust="spacingAndGlyphs">Group</text>
<line x1="457.00" y1="230.60" x2="467.00" y2="230.60" stroke="#163f5c" stroke-width="1.2"/>
<circle cx="461.8" cy="230.6" r="1.7" fill="#163f5c"/>
<text x="469.7" y="232.7" font-size="6">HC</text>
<line x1="457.00" y1="238.50" x2="467.00" y2="238.50" stroke="#a50f2a" stroke-width="1.2"/>
<circle cx="461.8" cy="238.5" r="1.7" fill="#a50f2a"/>
<text x="469.7" y="240.6" font-size="6" textLength="36.5" lengthAdjust="spacingAndGlyphs">DLBCL FN (–)</text>
<line x1="457.00" y1="246.40" x2="467.00" y2="246.40" stroke="#b0215f" stroke-width="1.2"/>
<circle cx="461.8" cy="246.4" r="1.7" fill="#b0215f"/>
<text x="469.7" y="248.5" font-size="6" textLength="36.5" lengthAdjust="spacingAndGlyphs">DLBCL FN (+)</text>
<line x1="357.30" y1="230.05" x2="359.80" y2="230.05" stroke="#222" stroke-width="0.8"/>
<text x="353.7" y="232.35" font-size="6.5" text-anchor="end">0.50</text>
<line x1="357.30" y1="267.88" x2="359.80" y2="267.88" stroke="#222" stroke-width="0.8"/>
<text x="353.7" y="270.175" font-size="6.5" text-anchor="end">0.25</text>
<line x1="357.30" y1="305.70" x2="359.80" y2="305.70" stroke="#222" stroke-width="0.8"/>
<text x="353.7" y="308.0" font-size="6.5" text-anchor="end">0.00</text>
<line x1="357.30" y1="343.52" x2="359.80" y2="343.52" stroke="#222" stroke-width="0.8"/>
<text x="353.7" y="345.825" font-size="6.5" text-anchor="end">–0.25</text>
<line x1="359.80" y1="376.20" x2="359.80" y2="378.70" stroke="#222" stroke-width="0.8"/>
<text x="359.20199999999994" y="388.3" font-size="6.5" text-anchor="middle">–0.6</text>
<line x1="397.10" y1="376.20" x2="397.10" y2="378.70" stroke="#222" stroke-width="0.8"/>
<text x="396.501" y="388.3" font-size="6.5" text-anchor="middle">–0.3</text>
<line x1="434.40" y1="376.20" x2="434.40" y2="378.70" stroke="#222" stroke-width="0.8"/>
<text x="434.4" y="388.3" font-size="6.5" text-anchor="middle">0.0</text>
<line x1="471.70" y1="376.20" x2="471.70" y2="378.70" stroke="#222" stroke-width="0.8"/>
<text x="471.69899999999996" y="388.3" font-size="6.5" text-anchor="middle">0.3</text>
<line x1="509.00" y1="376.20" x2="509.00" y2="378.70" stroke="#222" stroke-width="0.8"/>
<text x="508.998" y="388.3" font-size="6.5" text-anchor="middle">0.6</text>
<text x="434.8" y="400.2" font-size="7.6" text-anchor="middle" textLength="39.2" lengthAdjust="spacingAndGlyphs">PC1: 11.81%</text>
<text x="0" y="0" font-size="8.2" fill="#333" text-anchor="middle" transform="translate(333.2,296.3) rotate(-90)" textLength="35" lengthAdjust="spacingAndGlyphs">PC2: 6.69%</text>
<rect x="16.50" y="433.20" width="24.80" height="10.23" fill="#d0191f"/>
<rect x="41.30" y="433.20" width="24.90" height="10.23" fill="#e0503c"/>
<rect x="16.50" y="443.43" width="24.80" height="10.23" fill="#cd1c1e"/>
<rect x="41.30" y="443.43" width="24.90" height="10.23" fill="#ec8672"/>
<rect x="16.50" y="453.66" width="24.80" height="10.23" fill="#e6705e"/>
<rect x="41.30" y="453.66" width="24.90" height="10.23" fill="#f8cdb0"/>
<rect x="16.50" y="463.89" width="24.80" height="10.23" fill="#ea8870"/>
<rect x="41.30" y="463.89" width="24.90" height="10.23" fill="#f8d4b8"/>
<rect x="16.50" y="474.12" width="24.80" height="10.23" fill="#eb8d73"/>
<rect x="41.30" y="474.12" width="24.90" height="10.23" fill="#fadcbc"/>
<rect x="16.50" y="484.35" width="24.80" height="10.23" fill="#f8dbbd"/>
<rect x="41.30" y="484.35" width="24.90" height="10.23" fill="#fcebcf"/>
<rect x="16.50" y="494.58" width="24.80" height="10.23" fill="#fae2c3"/>
<rect x="41.30" y="494.58" width="24.90" height="10.23" fill="#ede8d6"/>
<rect x="16.50" y="504.81" width="24.80" height="10.23" fill="#f9e2c4"/>
<rect x="41.30" y="504.81" width="24.90" height="10.23" fill="#f4c5a5"/>
<rect x="16.50" y="515.04" width="24.80" height="10.23" fill="#f8dcbf"/>
<rect x="41.30" y="515.04" width="24.90" height="10.23" fill="#fcebcf"/>
<rect x="16.50" y="525.27" width="24.80" height="10.23" fill="#fcefd0"/>
<rect x="41.30" y="525.27" width="24.90" height="10.23" fill="#f4c2a2"/>
<rect x="16.50" y="535.50" width="24.80" height="10.23" fill="#fdf2d5"/>
<rect x="41.30" y="535.50" width="24.90" height="10.23" fill="#fdf2d5"/>
<rect x="16.50" y="545.73" width="24.80" height="10.23" fill="#fdf2d5"/>
<rect x="41.30" y="545.73" width="24.90" height="10.23" fill="#e1ddd3"/>
<rect x="16.50" y="555.97" width="24.80" height="10.23" fill="#fcf0d3"/>
<rect x="41.30" y="555.97" width="24.90" height="10.23" fill="#fbedd1"/>
<rect x="16.50" y="566.20" width="24.80" height="10.23" fill="#fbecd0"/>
<rect x="41.30" y="566.20" width="24.90" height="10.23" fill="#e8e2d4"/>
<rect x="16.50" y="576.43" width="24.80" height="10.23" fill="#d9d8cf"/>
<rect x="41.30" y="576.43" width="24.90" height="10.23" fill="#fcf0d4"/>
<rect x="16.50" y="586.66" width="24.80" height="10.23" fill="#cfcfcb"/>
<rect x="41.30" y="586.66" width="24.90" height="10.23" fill="#9ba5c5"/>
<rect x="16.50" y="596.89" width="24.80" height="10.23" fill="#b5bdcb"/>
<rect x="41.30" y="596.89" width="24.90" height="10.23" fill="#fcf0cc"/>
<rect x="16.50" y="607.12" width="24.80" height="10.23" fill="#b5bdcb"/>
<rect x="41.30" y="607.12" width="24.90" height="10.23" fill="#fcf0cc"/>
<rect x="16.50" y="617.35" width="24.80" height="10.23" fill="#8a9cc5"/>
<rect x="41.30" y="617.35" width="24.90" height="10.23" fill="#c9c9c7"/>
<rect x="16.50" y="627.58" width="24.80" height="10.23" fill="#8395c1"/>
<rect x="41.30" y="627.58" width="24.90" height="10.23" fill="#d5d3cc"/>
<rect x="16.50" y="637.81" width="24.80" height="10.23" fill="#4b6db0"/>
<rect x="41.30" y="637.81" width="24.90" height="10.23" fill="#f4ecd4"/>
<rect x="16.50" y="648.04" width="24.80" height="10.23" fill="#3b5ca8"/>
<rect x="41.30" y="648.04" width="24.90" height="10.23" fill="#d5d3cc"/>
<rect x="16.50" y="658.27" width="24.80" height="10.23" fill="#2b4c9c"/>
<rect x="41.30" y="658.27" width="24.90" height="10.23" fill="#d1cfc9"/>
<line x1="16.10" y1="433.20" x2="66.60" y2="433.20" stroke="#332a26" stroke-width="0.85"/>
<line x1="16.10" y1="443.43" x2="66.60" y2="443.43" stroke="#332a26" stroke-width="0.85"/>
<line x1="16.10" y1="453.66" x2="66.60" y2="453.66" stroke="#332a26" stroke-width="0.85"/>
<line x1="16.10" y1="463.89" x2="66.60" y2="463.89" stroke="#332a26" stroke-width="0.85"/>
<line x1="16.10" y1="474.12" x2="66.60" y2="474.12" stroke="#332a26" stroke-width="0.85"/>
<line x1="16.10" y1="484.35" x2="66.60" y2="484.35" stroke="#332a26" stroke-width="0.85"/>
<line x1="16.10" y1="494.58" x2="66.60" y2="494.58" stroke="#332a26" stroke-width="0.85"/>
<line x1="16.10" y1="504.81" x2="66.60" y2="504.81" stroke="#332a26" stroke-width="0.85"/>
<line x1="16.10" y1="515.04" x2="66.60" y2="515.04" stroke="#332a26" stroke-width="0.85"/>
<line x1="16.10" y1="525.27" x2="66.60" y2="525.27" stroke="#332a26" stroke-width="0.85"/>
<line x1="16.10" y1="535.50" x2="66.60" y2="535.50" stroke="#332a26" stroke-width="0.85"/>
<line x1="16.10" y1="545.73" x2="66.60" y2="545.73" stroke="#332a26" stroke-width="0.85"/>
<line x1="16.10" y1="555.97" x2="66.60" y2="555.97" stroke="#332a26" stroke-width="0.85"/>
<line x1="16.10" y1="566.20" x2="66.60" y2="566.20" stroke="#332a26" stroke-width="0.85"/>
<line x1="16.10" y1="576.43" x2="66.60" y2="576.43" stroke="#332a26" stroke-width="0.85"/>
<line x1="16.10" y1="586.66" x2="66.60" y2="586.66" stroke="#332a26" stroke-width="0.85"/>
<line x1="16.10" y1="596.89" x2="66.60" y2="596.89" stroke="#332a26" stroke-width="0.85"/>
<line x1="16.10" y1="607.12" x2="66.60" y2="607.12" stroke="#332a26" stroke-width="0.85"/>
<line x1="16.10" y1="617.35" x2="66.60" y2="617.35" stroke="#332a26" stroke-width="0.85"/>
<line x1="16.10" y1="627.58" x2="66.60" y2="627.58" stroke="#332a26" stroke-width="0.85"/>
<line x1="16.10" y1="637.81" x2="66.60" y2="637.81" stroke="#332a26" stroke-width="0.85"/>
<line x1="16.10" y1="648.04" x2="66.60" y2="648.04" stroke="#332a26" stroke-width="0.85"/>
<line x1="16.10" y1="658.27" x2="66.60" y2="658.27" stroke="#332a26" stroke-width="0.85"/>
<line x1="16.10" y1="668.50" x2="66.60" y2="668.50" stroke="#332a26" stroke-width="0.85"/>
<line x1="16.50" y1="433.20" x2="16.50" y2="668.50" stroke="#332a26" stroke-width="0.9"/>
<line x1="41.30" y1="433.20" x2="41.30" y2="668.50" stroke="#332a26" stroke-width="0.8"/>
<line x1="66.20" y1="433.20" x2="66.20" y2="668.50" stroke="#332a26" stroke-width="0.9"/>
<text x="28.9" y="440.71521739130435" font-size="7" text-anchor="middle" fill="#7a2a1a">0</text>
<text x="53.75" y="440.71521739130435" font-size="7" text-anchor="middle" fill="#6a3a2a">0</text>
<text x="28.9" y="450.94565217391306" font-size="7" text-anchor="middle" fill="#7a2a1a">0</text>
<text x="53.75" y="450.94565217391306" font-size="7" text-anchor="middle" fill="#6a3a2a">0</text>
<text x="28.9" y="461.1760869565217" font-size="7" text-anchor="middle" fill="#7a2a1a">0</text>
<text x="53.75" y="461.1760869565217" font-size="7" text-anchor="middle" fill="#6a3a2a">0</text>
<text x="28.9" y="471.4065217391304" font-size="7" text-anchor="middle" fill="#7a2a1a">0</text>
<text x="53.75" y="471.4065217391304" font-size="7" text-anchor="middle" fill="#6a3a2a">0</text>
<text x="28.9" y="481.63695652173914" font-size="7" text-anchor="middle" fill="#7a2a1a">0</text>
<text x="53.75" y="481.63695652173914" font-size="7" text-anchor="middle" fill="#6a3a2a">0</text>
<text x="28.9" y="512.3282608695652" font-size="7" text-anchor="middle" fill="#555">0</text>
<text x="53.75" y="512.3282608695652" font-size="7" text-anchor="middle" fill="#555">0</text>
<text x="28.9" y="532.7891304347826" font-size="7" text-anchor="middle" fill="#555">0</text>
<text x="53.75" y="532.7891304347826" font-size="7" text-anchor="middle" fill="#555">0</text>
<text x="28.9" y="583.9413043478261" font-size="7" text-anchor="middle" fill="#555">0</text>
<text x="53.75" y="583.9413043478261" font-size="7" text-anchor="middle" fill="#555">0</text>
<text x="28.9" y="604.4021739130435" font-size="7" text-anchor="middle" fill="#555">0</text>
<text x="53.75" y="604.4021739130435" font-size="7" text-anchor="middle" fill="#555">0</text>
<text x="28.9" y="614.6326086956522" font-size="7" text-anchor="middle" fill="#555">0</text>
<text x="53.75" y="614.6326086956522" font-size="7" text-anchor="middle" fill="#555">0</text>
<text x="28.9" y="645.3239130434782" font-size="7" text-anchor="middle" fill="#1e3466">0</text>
<text x="53.75" y="645.3239130434782" font-size="7" text-anchor="middle" fill="#555">0</text>
<text x="28.9" y="655.554347826087" font-size="7" text-anchor="middle" fill="#1e3466">0</text>
<text x="53.75" y="655.554347826087" font-size="7" text-anchor="middle" fill="#555">0</text>
<text x="28.9" y="665.7847826086957" font-size="7" text-anchor="middle" fill="#1e3466">0</text>
<text x="53.75" y="665.7847826086957" font-size="7" text-anchor="middle" fill="#555">0</text>
<text x="70" y="440.5152173913043" font-size="6.6" font-style="italic" font-weight="bold" fill="#111">Citrobacter</text>
<text x="70" y="450.745652173913" font-size="6.6" font-style="italic" font-weight="bold" fill="#111">Enterobacter</text>
<text x="70" y="460.97608695652167" font-size="6.6" font-style="italic" font-weight="bold" fill="#111">Klebsiella</text>
<text x="70" y="471.2065217391304" font-size="6.6" font-style="italic">Enterococcus</text>
<text x="70" y="481.4369565217391" font-size="6.6" font-style="italic" font-weight="bold" fill="#111">Escherichia</text>
<text x="70" y="491.6673913043478" font-size="6.6" font-style="italic">Bacteroides</text>
<text x="70" y="501.8978260869565" font-size="6.6" font-style="italic">Mediterraneibacter</text>
<text x="70" y="512.1282608695652" font-size="6.6" font-style="italic">Parabacteroides</text>
<text x="70" y="522.3586956521739" font-size="6.6" font-style="italic">Bifidobacterium</text>
<text x="70" y="532.5891304347826" font-size="6.6" font-style="italic">Streptococcus</text>
<text x="70" y="542.8195652173913" font-size="6.6" font-style="italic">Alistipes</text>
<text x="70" y="553.0500000000001" font-size="6.6" font-style="italic">Collinsella</text>
<text x="70" y="563.2804347826087" font-size="6.6" font-style="italic">Oscillibacter</text>
<text x="70" y="573.5108695652174" font-size="6.6" font-style="italic">Blautia</text>
<text x="70" y="583.7413043478261" font-size="6.6" font-style="italic">Phocaeicola</text>
<text x="70" y="593.9717391304348" font-size="6.6" font-style="italic">Lachnospira</text>
<text x="70" y="604.2021739130436" font-size="6.6" font-style="italic">Subdoligranulum</text>
<text x="70" y="614.4326086956522" font-size="6.6" font-style="italic">Faecalibacterium</text>
<text x="70" y="624.6630434782609" font-size="6.6" font-style="italic">Anaerostipes</text>
<text x="70" y="634.8934782608695" font-size="6.6" font-style="italic">AP018536_g</text>
<text x="70" y="645.1239130434783" font-size="6.6" font-style="italic">Roseburia</text>
<text x="70" y="655.3543478260871" font-size="6.6" font-style="italic">Prevotella</text>
<text x="70" y="665.5847826086957" font-size="6.6" font-style="italic">Agathobacter</text>
<defs><linearGradient id="cb" x1="0" y1="0" x2="0" y2="1">
<stop offset="0" stop-color="#cc1628"/><stop offset="0.2" stop-color="#d83a38"/><stop offset="0.4" stop-color="#e4725f"/>
<stop offset="0.6" stop-color="#f4b898"/><stop offset="0.72" stop-color="#f8dcbc"/><stop offset="0.8" stop-color="#f2ead2"/>
<stop offset="0.86" stop-color="#d4d4cc"/><stop offset="0.93" stop-color="#9aa6c6"/><stop offset="1" stop-color="#3a5aa6"/></linearGradient>
<clipPath id="clipE"><rect x="359.8" y="216.4" width="149.7" height="159.8"/></clipPath></defs>
<rect x="134.6" y="446.2" width="12" height="86.8" fill="url(#cb)" stroke="#2a2222" stroke-width="0.9"/>
<line x1="146.70" y1="445.60" x2="149.50" y2="445.60" stroke="#222" stroke-width="0.7"/>
<text x="152" y="448.0" font-size="6.9">2.0</text>
<line x1="146.70" y1="463.00" x2="149.50" y2="463.00" stroke="#222" stroke-width="0.7"/>
<text x="152" y="465.40000000000003" font-size="6.9">1.5</text>
<line x1="146.70" y1="480.40" x2="149.50" y2="480.40" stroke="#222" stroke-width="0.7"/>
<text x="152" y="482.8" font-size="6.9">1</text>
<line x1="146.70" y1="497.80" x2="149.50" y2="497.80" stroke="#222" stroke-width="0.7"/>
<text x="152" y="500.20000000000005" font-size="6.9">0.5</text>
<line x1="146.70" y1="515.20" x2="149.50" y2="515.20" stroke="#222" stroke-width="0.7"/>
<text x="152" y="517.6" font-size="6.9">0</text>
<line x1="146.70" y1="532.60" x2="149.50" y2="532.60" stroke="#222" stroke-width="0.7"/>
<text x="152" y="535.0" font-size="6.9">–0.5</text>
<text x="135" y="439.2" font-size="6.6" textLength="63.4" lengthAdjust="spacingAndGlyphs">Log fold change (vs HC)</text>
<line x1="397.20" y1="444.90" x2="397.20" y2="668.30" stroke="#333" stroke-width="0.7" stroke-dasharray="0.7 1"/>
<line x1="418.20" y1="444.90" x2="418.20" y2="668.30" stroke="#333" stroke-width="0.7" stroke-dasharray="0.7 1"/>
<line x1="460.20" y1="444.90" x2="460.20" y2="668.30" stroke="#333" stroke-width="0.7" stroke-dasharray="0.7 1"/>
<line x1="481.20" y1="444.90" x2="481.20" y2="668.30" stroke="#333" stroke-width="0.7" stroke-dasharray="0.7 1"/>
<rect x="439.20" y="449.85" width="53.34" height="6.00" fill="#17508a"/>
<line x1="373.80" y1="452.85" x2="376.80" y2="452.85" stroke="#222" stroke-width="0.7"/>
<text x="370.8" y="455.05" font-size="6.6" text-anchor="end" font-style="italic" fill="#2a2a2a" textLength="58.5" lengthAdjust="spacingAndGlyphs">Prevotella stercorea</text>
<rect x="439.20" y="460.82" width="49.88" height="6.00" fill="#17508a"/>
<line x1="373.80" y1="463.82" x2="376.80" y2="463.82" stroke="#222" stroke-width="0.7"/>
<text x="370.8" y="466.02000000000004" font-size="6.6" text-anchor="end" font-style="italic" fill="#2a2a2a" textLength="61.6" lengthAdjust="spacingAndGlyphs">Phocaeicola plebeius</text>
<rect x="439.20" y="471.79" width="49.56" height="6.00" fill="#17508a"/>
<line x1="373.80" y1="474.79" x2="376.80" y2="474.79" stroke="#222" stroke-width="0.7"/>
<text x="370.8" y="476.99" font-size="6.6" text-anchor="end" font-style="italic" fill="#2a2a2a" textLength="61.0" lengthAdjust="spacingAndGlyphs">Phocaeicola QSQT_s</text>
<rect x="439.20" y="482.76" width="49.04" height="6.00" fill="#17508a"/>
<line x1="373.80" y1="485.76" x2="376.80" y2="485.76" stroke="#222" stroke-width="0.7"/>
<text x="370.8" y="487.96000000000004" font-size="6.6" text-anchor="end" font-style="italic" fill="#2a2a2a" textLength="89.3" lengthAdjust="spacingAndGlyphs">Faecalibacterium GG697149_s</text>
<rect x="439.20" y="493.73" width="48.51" height="6.00" fill="#17508a"/>
<line x1="373.80" y1="496.73" x2="376.80" y2="496.73" stroke="#222" stroke-width="0.7"/>
<text x="370.8" y="498.93" font-size="6.6" text-anchor="end" font-style="italic" fill="#2a2a2a" textLength="60.6" lengthAdjust="spacingAndGlyphs">Bacteroides stercoris</text>
<rect x="439.20" y="504.70" width="48.09" height="6.00" fill="#17508a"/>
<line x1="373.80" y1="507.70" x2="376.80" y2="507.70" stroke="#222" stroke-width="0.7"/>
<text x="370.8" y="509.90000000000003" font-size="6.6" text-anchor="end" font-style="italic" fill="#2a2a2a" textLength="81.6" lengthAdjust="spacingAndGlyphs">Streptococcus thermophilus</text>
<rect x="439.20" y="515.67" width="47.46" height="6.00" fill="#17508a"/>
<line x1="373.80" y1="518.67" x2="376.80" y2="518.67" stroke="#222" stroke-width="0.7"/>
<text x="370.8" y="520.8700000000001" font-size="6.6" text-anchor="end" font-style="italic" fill="#2a2a2a" textLength="62.5" lengthAdjust="spacingAndGlyphs">Agathobacter rectalis</text>
<rect x="439.20" y="526.64" width="43.57" height="6.00" fill="#17508a"/>
<line x1="373.80" y1="529.64" x2="376.80" y2="529.64" stroke="#222" stroke-width="0.7"/>
<text x="370.8" y="531.84" font-size="6.6" text-anchor="end" font-style="italic" fill="#2a2a2a" textLength="55.4" lengthAdjust="spacingAndGlyphs">Blautia massiliensis</text>
<rect x="439.20" y="537.61" width="41.79" height="6.00" fill="#17508a"/>
<line x1="373.80" y1="540.61" x2="376.80" y2="540.61" stroke="#222" stroke-width="0.7"/>
<text x="370.8" y="542.8100000000001" font-size="6.6" text-anchor="end" font-style="italic" fill="#2a2a2a" textLength="58.5" lengthAdjust="spacingAndGlyphs">Paraprevotella clara</text>
<rect x="439.20" y="548.58" width="40.32" height="6.00" fill="#17508a"/>
<line x1="373.80" y1="551.58" x2="376.80" y2="551.58" stroke="#222" stroke-width="0.7"/>
<text x="370.8" y="553.7800000000001" font-size="6.6" text-anchor="end" font-style="italic" fill="#2a2a2a" textLength="100.6" lengthAdjust="spacingAndGlyphs">Agathobaculum butyriciproducens</text>
<rect x="397.83" y="559.55" width="41.37" height="6.00" fill="#cc0a2f"/>
<line x1="373.80" y1="562.55" x2="376.80" y2="562.55" stroke="#222" stroke-width="0.7"/>
<text x="370.8" y="564.7500000000001" font-size="6.6" text-anchor="end" font-style="italic" fill="#2a2a2a" textLength="82.5" lengthAdjust="spacingAndGlyphs">Lactiplantibacillus plantarum</text>
<rect x="396.36" y="570.52" width="42.84" height="6.00" fill="#cc0a2f"/>
<line x1="373.80" y1="573.52" x2="376.80" y2="573.52" stroke="#222" stroke-width="0.7"/>
<text x="370.8" y="575.72" font-size="6.6" text-anchor="end" font-style="italic" fill="#2a2a2a" textLength="112.3" lengthAdjust="spacingAndGlyphs">Klebsiella pneumoniae subsp. ozaenae</text>
<rect x="395.83" y="581.49" width="43.37" height="6.00" fill="#cc0a2f"/>
<line x1="373.80" y1="584.49" x2="376.80" y2="584.49" stroke="#222" stroke-width="0.7"/>
<text x="370.8" y="586.69" font-size="6.6" text-anchor="end" font-style="italic" fill="#2a2a2a" textLength="85.6" lengthAdjust="spacingAndGlyphs">Enterocloster clostridioformis</text>
<rect x="395.83" y="592.46" width="43.37" height="6.00" fill="#cc0a2f"/>
<line x1="373.80" y1="595.46" x2="376.80" y2="595.46" stroke="#222" stroke-width="0.7"/>
<text x="370.8" y="597.6600000000001" font-size="6.6" text-anchor="end" font-style="italic" fill="#2a2a2a" textLength="73.9" lengthAdjust="spacingAndGlyphs">Ligilactobacillus salivarius</text>
<rect x="394.37" y="603.43" width="44.83" height="6.00" fill="#cc0a2f"/>
<line x1="373.80" y1="606.43" x2="376.80" y2="606.43" stroke="#222" stroke-width="0.7"/>
<text x="370.8" y="608.6300000000001" font-size="6.6" text-anchor="end" font-style="italic" fill="#2a2a2a" textLength="136.0" lengthAdjust="spacingAndGlyphs">Klebsiella pneumoniae subsp. rhinoscleromatis</text>
<rect x="393.84" y="614.40" width="45.36" height="6.00" fill="#cc0a2f"/>
<line x1="373.80" y1="617.40" x2="376.80" y2="617.40" stroke="#222" stroke-width="0.7"/>
<text x="370.8" y="619.6000000000001" font-size="6.6" text-anchor="end" font-style="italic" fill="#2a2a2a" textLength="63.7" lengthAdjust="spacingAndGlyphs">Clostridium innocuum</text>
<rect x="393.00" y="625.37" width="46.20" height="6.00" fill="#cc0a2f"/>
<line x1="373.80" y1="628.37" x2="376.80" y2="628.37" stroke="#222" stroke-width="0.7"/>
<text x="370.8" y="630.57" font-size="6.6" text-anchor="end" font-style="italic" fill="#2a2a2a" textLength="50.2" lengthAdjust="spacingAndGlyphs">Eggerthella lenta</text>
<rect x="390.16" y="636.34" width="49.04" height="6.00" fill="#cc0a2f"/>
<line x1="373.80" y1="639.34" x2="376.80" y2="639.34" stroke="#222" stroke-width="0.7"/>
<text x="370.8" y="641.5400000000001" font-size="6.6" text-anchor="end" font-style="italic" fill="#2a2a2a" textLength="88.3" lengthAdjust="spacingAndGlyphs">Limosilactobacillus fermentum</text>
<rect x="388.49" y="647.31" width="50.71" height="6.00" fill="#cc0a2f"/>
<line x1="373.80" y1="650.31" x2="376.80" y2="650.31" stroke="#222" stroke-width="0.7"/>
<text x="370.8" y="652.5100000000001" font-size="6.6" text-anchor="end" font-style="italic" fill="#2a2a2a" textLength="63.7" lengthAdjust="spacingAndGlyphs">Escherichia coli group</text>
<rect x="385.33" y="658.28" width="53.87" height="6.00" fill="#cc0a2f"/>
<line x1="373.80" y1="661.28" x2="376.80" y2="661.28" stroke="#222" stroke-width="0.7"/>
<text x="370.8" y="663.48" font-size="6.6" text-anchor="end" font-style="italic" fill="#2a2a2a" textLength="82.5" lengthAdjust="spacingAndGlyphs">Lacticaseibacillus rhamnosus</text>
<line x1="439.20" y1="444.90" x2="439.20" y2="668.30" stroke="#1a1a1a" stroke-width="1.0"/>
<line x1="376.80" y1="444.90" x2="376.80" y2="668.80" stroke="#1a1a1a" stroke-width="1.1"/>
<line x1="376.30" y1="668.30" x2="504.70" y2="668.30" stroke="#1a1a1a" stroke-width="1.1"/>
<line x1="376.20" y1="668.30" x2="376.20" y2="671.00" stroke="#222" stroke-width="0.8"/>
<text x="375.4" y="680.3" font-size="7" text-anchor="middle">–6</text>
<line x1="397.20" y1="668.30" x2="397.20" y2="671.00" stroke="#222" stroke-width="0.8"/>
<text x="396.4" y="680.3" font-size="7" text-anchor="middle">–4</text>
<line x1="418.20" y1="668.30" x2="418.20" y2="671.00" stroke="#222" stroke-width="0.8"/>
<text x="417.4" y="680.3" font-size="7" text-anchor="middle">–2</text>
<line x1="439.20" y1="668.30" x2="439.20" y2="671.00" stroke="#222" stroke-width="0.8"/>
<text x="439.2" y="680.3" font-size="7" text-anchor="middle">0</text>
<line x1="460.20" y1="668.30" x2="460.20" y2="671.00" stroke="#222" stroke-width="0.8"/>
<text x="460.2" y="680.3" font-size="7" text-anchor="middle">2</text>
<line x1="481.20" y1="668.30" x2="481.20" y2="671.00" stroke="#222" stroke-width="0.8"/>
<text x="481.2" y="680.3" font-size="7" text-anchor="middle">4</text>
<line x1="502.20" y1="668.30" x2="502.20" y2="671.00" stroke="#222" stroke-width="0.8"/>
<text x="502.2" y="680.3" font-size="7" text-anchor="middle">6</text>
<text x="442" y="691.5" font-size="7.2" text-anchor="middle" textLength="28" lengthAdjust="spacingAndGlyphs">LDA score</text>
<text x="394.6" y="439.7" font-size="9.3" fill="#222" textLength="92.3" lengthAdjust="spacingAndGlyphs">Species-level biomarker</text>
<rect x="449.00" y="641.40" width="51.00" height="19.60" fill="#fff"/>
<rect x="451.40" y="644.10" width="5.70" height="5.40" fill="#17508a"/>
<rect x="451.40" y="653.60" width="5.70" height="5.30" fill="#cc0a2f"/>
<text x="460.2" y="648.9" font-size="6.3" textLength="35.7" lengthAdjust="spacingAndGlyphs">DLBCL FN (–)</text>
<text x="460.2" y="658.4" font-size="6.3" textLength="36.6" lengthAdjust="spacingAndGlyphs">DLBCL FN (+)</text>
<rect x="0.5" y="0.5" width="519" height="700" fill="none" stroke="#555" stroke-width="1"/>
</svg></body></html>
